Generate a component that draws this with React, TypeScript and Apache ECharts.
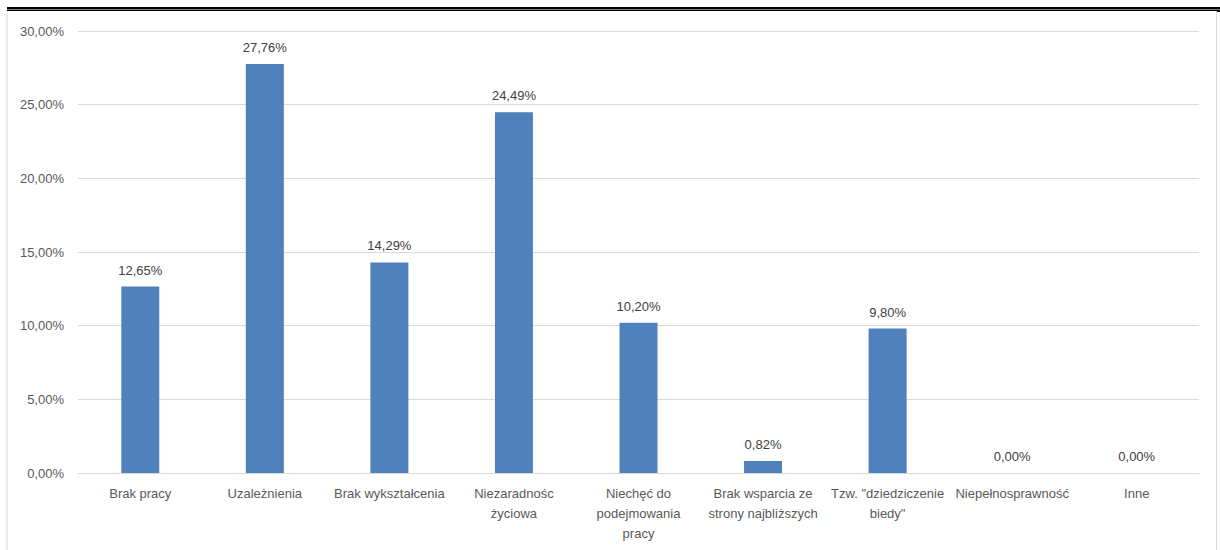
import React, { useEffect, useRef } from "react";
import * as echarts from "echarts";

const categories = [
  "Brak pracy",
  "Uzależnienia",
  "Brak wykształcenia",
  "Niezaradnośc\nżyciowa",
  "Niechęć do\npodejmowania\npracy",
  "Brak wsparcia ze\nstrony najbliższych",
  "Tzw. \"dziedziczenie\nbiedy\"",
  "Niepełnosprawność",
  "Inne",
];
const values = [12.65, 27.76, 14.29, 24.49, 10.2, 0.82, 9.8, 0.0, 0.0];

const fmt = (v: number) => v.toFixed(2).replace(".", ",") + "%";

export default function App() {
  const ref = useRef<HTMLDivElement>(null);
  useEffect(() => {
    if (!ref.current) return;
    const chart = echarts.init(ref.current, null, { renderer: "svg" });
    chart.setOption({
      animation: false,
      backgroundColor: "#ffffff",
      textStyle: { fontFamily: "Liberation Sans, Arial, sans-serif" },
      grid: { left: 78, right: 21, top: 31, bottom: 77, containLabel: false },
      xAxis: {
        type: "category",
        data: categories,
        axisLine: { lineStyle: { color: "#d9d9d9", width: 1 } },
        axisTick: { show: false },
        axisLabel: {
          color: "#595959",
          fontSize: 13,
          margin: 10,
          lineHeight: 20,
          interval: 0,
        },
      },
      yAxis: {
        type: "value",
        min: 0,
        max: 30,
        interval: 5,
        axisLine: { show: false },
        axisTick: { show: false },
        splitLine: { lineStyle: { color: "#d9d9d9", width: 1 } },
        axisLabel: {
          color: "#595959",
          fontSize: 13,
          margin: 14,
          formatter: (v: number) => fmt(v),
        },
      },
      series: [
        {
          type: "bar",
          data: values,
          barWidth: 38,
          itemStyle: { color: "#4f81bd" },
          label: {
            show: true,
            position: "top",
            distance: 10,
            color: "#404040",
            fontSize: 13,
            formatter: (p: any) => fmt(p.value),
          },
        },
      ],
      graphic: [
        {
          type: "rect",
          shape: { x: 7, y: 7, width: 1213, height: 2.5 },
          style: { fill: "#000000" },
          silent: true,
        },
        {
          type: "rect",
          shape: { x: 7, y: 10, width: 1213, height: 1 },
          style: { fill: "#000000" },
          silent: true,
        },
        {
          type: "rect",
          shape: { x: 1216, y: 10, width: 4, height: 2 },
          style: { fill: "#000000" },
          silent: true,
        },
        {
          type: "line",
          shape: { x1: 7, y1: 11, x2: 7, y2: 550 },
          style: { stroke: "#d9d9d9", lineWidth: 1 },
          silent: true,
        },
        {
          type: "line",
          shape: { x1: 1216.5, y1: 11, x2: 1216.5, y2: 550 },
          style: { stroke: "#d9d9d9", lineWidth: 1 },
          silent: true,
        },
      ],
    });
    return () => chart.dispose();
  }, []);
  return (
    <div
      ref={ref}
      style={{ position: "fixed", left: 0, top: 0, width: 1220, height: 550 }}
    />
  );
}
